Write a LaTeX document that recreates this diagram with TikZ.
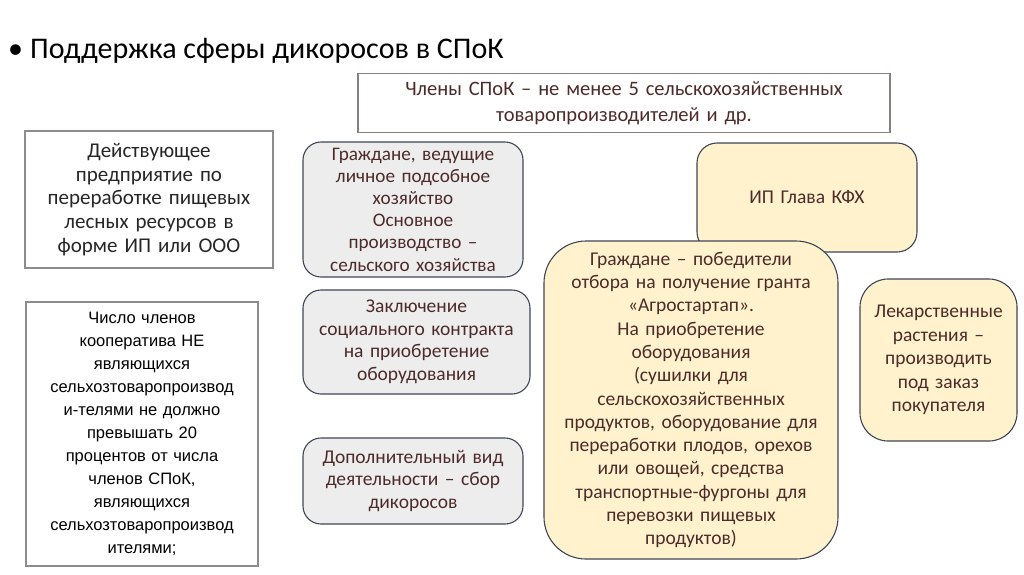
\documentclass[tikz,border=0pt]{standalone}
\usepackage{fontspec}
\setmainfont{Carlito}
\newfontfamily\arialfont{Liberation Sans}
\newcommand\myfs[2]{\fontsize{#1}{#2}\selectfont\lineskiplimit=-100pt\lineskip=0pt\relax}
\definecolor{txtbrown}{HTML}{4E2A2A}
\definecolor{boxline}{HTML}{8C7C7C}
\definecolor{greyline}{HTML}{8E8B8B}
\definecolor{greyfill}{HTML}{EDEDED}
\definecolor{darkline}{HTML}{3E4656}
\definecolor{yelfill}{HTML}{FFF2CC}
\tikzset{
  plainbox/.style={draw=boxline, line width=1.2pt, fill=white, inner sep=0pt, align=center},
  greybox/.style={draw=darkline, line width=1.1pt, fill=greyfill, rounded corners=18pt, inner sep=0pt, align=center, text=txtbrown},
  yelbox/.style={draw=darkline, line width=1.1pt, fill=yelfill, rounded corners=20pt, inner sep=0pt, align=center, text=txtbrown},
  bodyfont/.style={font=\myfs{19.5}{22.5}}
}
\begin{document}
\begin{tikzpicture}[x=1pt,y=-1pt]
\useasboundingbox (0,0) rectangle (1024,574);
\fill[white] (0,0) rectangle (1024,574);
% title
\node[anchor=base west, inner sep=0pt, font=\myfs{30}{34}] (title) at (8,58) {\textbullet\hspace{7pt}Поддержка сферы дикоросов в СПоК};
% top box
\node[plainbox, text=txtbrown, minimum width=532pt, minimum height=59pt, text width=520pt, font=\myfs{20.5}{26}] (members) at (624,103) {Члены СПоК – не менее 5 сельскохозяйственных\\товаропроизводителей и др.};
% left top box
\node[plainbox, draw=greyline, minimum width=248pt, minimum height=137pt, text width=244pt, text=black!85, font=\myfs{21}{23.6}] (enterprise) at (149,199.5) {Действующее\\предприятие по\\переработке пищевых\\лесных ресурсов в\\форме ИП или ООО};
% left bottom box
\node[plainbox, draw=greyline, minimum width=232pt, minimum height=264pt, text width=228pt, text=black, font=\arialfont\myfs{16.5}{23}] (limit) at (142,434) {Число членов\\кооператива НЕ\\являющихся\\сельхозтоваропроизвод\\и-телями не должно\\превышать 20\\процентов от числа\\членов СПоК,\\являющихся\\сельхозтоваропроизвод\\ителями;};
% grey boxes
\node[greybox, minimum width=220pt, minimum height=135pt, text width=216pt, font=\myfs{19.2}{22.2}] (lph) at (413,209.5) {Граждане, ведущие\\личное подсобное\\хозяйство\\Основное\\производство –\\сельского хозяйства};
\node[greybox, bodyfont, minimum width=227pt, minimum height=104pt, text width=222pt] (social) at (416.5,342) {Заключение\\социального контракта\\на приобретение\\оборудования};
\node[greybox, bodyfont, minimum width=220pt, minimum height=86pt, text width=216pt] (extra) at (413,481) {Дополнительный вид\\деятельности – сбор\\дикоросов};
% yellow boxes
\node[yelbox, bodyfont, minimum width=220pt, minimum height=109pt, text width=216pt] (kfh) at (807,197.5) {ИП Глава КФХ};
\node[yelbox, rounded corners=42pt, minimum width=294pt, minimum height=318pt, text width=290pt, font=\myfs{19.5}{23.3}] (grant) at (691,400) {Граждане – победители\\отбора на получение гранта\\«Агростартап».\\На приобретение\\оборудования\\(сушилки для\\сельскохозяйственных\\продуктов, оборудование для\\переработки плодов, орехов\\или овощей, средства\\транспортные-фургоны для\\перевозки пищевых\\продуктов)};
\node[yelbox, rounded corners=28pt, minimum width=157pt, minimum height=162pt, text width=153pt, font=\myfs{19.5}{23.5}] (herbs) at (938.5,360) {Лекарственные\\растения –\\производить\\под заказ\\покупателя};
\end{tikzpicture}
\end{document}
